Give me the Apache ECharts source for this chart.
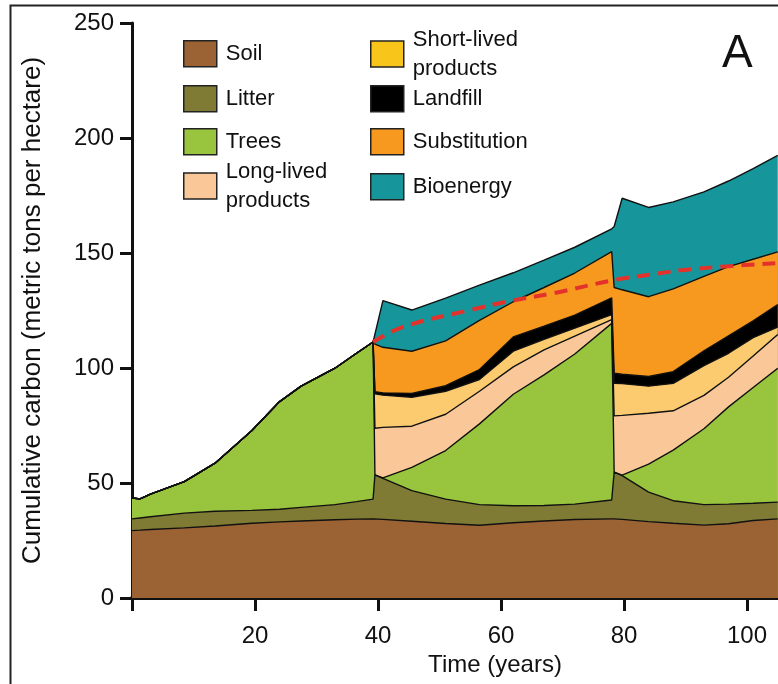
<!DOCTYPE html>
<html><head><meta charset="utf-8">
<script src="https://cdn.jsdelivr.net/npm/echarts@6/dist/echarts.min.js"></script>
<style>html,body{margin:0;padding:0;background:#fff}#c{width:778px;height:684px}</style>
</head><body><div id="c"></div>
<script>
// ---- data (years; each layer's own carbon, metric tons per hectare) ----
const years        = [0, 1.3, 3, 8.5, 13.5, 19.5, 24, 27.5, 33, 36.5, 39.2, 39.5, 40.8, 45.5, 51, 56.5, 62, 67, 72, 78, 78.4, 79.7, 84, 88, 93, 97, 101, 105];
const soil         = [29.3, 29.5, 29.8, 30.5, 31.3, 32.5, 33.1, 33.5, 34.0, 34.3, 34.4, 34.4, 34.2, 33.4, 32.4, 31.6, 32.7, 33.5, 34.1, 34.4, 34.4, 34.2, 33.2, 32.5, 31.7, 32.3, 33.7, 34.4];
const litter       = [5.1, 5.3, 5.5, 6.4, 6.4, 5.6, 5.5, 5.9, 6.6, 7.6, 8.6, 19.1, 17.8, 13.3, 10.6, 9.0, 7.4, 6.7, 6.7, 8.2, 20.3, 19.0, 12.8, 9.8, 8.9, 8.5, 7.5, 7.3];
const trees        = [9.1, 8.3, 9.9, 13.7, 20.9, 34.7, 46.8, 52.7, 59.3, 64.5, 68.3, 0, 0.2, 10.1, 21.1, 35.1, 48.5, 56.8, 65.3, 76.8, 0, 0.2, 12.2, 22.0, 33.0, 42.3, 50.3, 58.2];
const longLived    = [0, 0, 0, 0, 0, 0, 0, 0, 0, 0, 0, 20.3, 22.0, 17.9, 15.8, 14.2, 11.9, 10.9, 7.8, 1.6, 24.5, 26.0, 22.1, 17.1, 14.5, 12.9, 13.7, 14.7];
const shortLived   = [0, 0, 0, 0, 0, 0, 0, 0, 0, 0, 0, 15.0, 14.0, 12.6, 10.0, 5.1, 6.8, 4.6, 3.4, 2.2, 14.2, 13.8, 11.8, 11.9, 12.9, 10.4, 8.0, 3.2];
const landfill     = [0, 0, 0, 0, 0, 0, 0, 0, 0, 0, 0, 0.9, 1.0, 1.6, 2.4, 4.3, 6.2, 5.7, 5.7, 7.3, 4.3, 4.1, 4.2, 5.1, 6.5, 7.6, 7.3, 9.8];
const substitution = [0, 0, 0, 0, 0, 0, 0, 0, 0, 0, 0, 20.7, 19.8, 18.4, 19.5, 21.4, 15.3, 16.8, 18.3, 20.1, 37.3, 36.7, 34.7, 36.0, 32.3, 30.1, 26.8, 22.9];
const bioenergy    = [0, 0, 0, 0, 0, 0, 0, 0, 0, 0, 0, 0.2, 20.3, 17.9, 18.6, 15.3, 12.6, 11.9, 11.2, 9.9, 26.5, 39.8, 38.8, 37.8, 36.8, 37.2, 39.4, 42.0];
// red dashed reference curve
const dashYears    = [39.2, 44, 54.8, 61.8, 68.5, 78.3, 84.5, 91.4, 105];
const dashValues   = [111.3, 117.8, 125.1, 129.3, 132.5, 138.2, 140.7, 143.1, 145.6];
// axes
const yMin = 0, yMax = 250, yStep = 50;
const xMin = 0, xMax = 120, xStep = 20;
const yTitle = 'Cumulative carbon (metric tons per hectare)';
const xTitle = 'Time (years)';
const panelLetter = 'A';

// ---- styling ----
const F = '"Liberation Sans", Arial, Helvetica, sans-serif';
const layers = [
  {name: 'Soil', values: soil, color: '#9B6334'},
  {name: 'Litter', values: litter, color: '#7F7B35'},
  {name: 'Trees', values: trees, color: '#98C53D'},
  {name: 'Long-lived products', values: longLived, color: '#FAC898'},
  {name: 'Short-lived products', values: shortLived, color: '#FCCB70', legendColor: '#F8C51B'},
  {name: 'Landfill', values: landfill, color: '#000000'},
  {name: 'Substitution', values: substitution, color: '#F7991F'},
  {name: 'Bioenergy', values: bioenergy, color: '#16969A'}
];

// cumulative tops of the stack (each layer sits on the ones below it)
const running = years.map(() => 0);
const tops = layers.map(l => {
  l.values.forEach((v, i) => { running[i] += v; });
  return running.slice();
});

// draw the highest layer first; each lower layer is painted over it
const series = [];
for (let k = layers.length - 1; k >= 0; k--) {
  const l = layers[k];
  series.push({
    name: l.name,
    type: 'line',
    symbol: 'none',
    data: years.map((x, i) => [x, tops[k][i]]),
    lineStyle: {color: '#111', width: 1.4},
    itemStyle: {color: l.color},
    areaStyle: {color: l.color, opacity: 1, origin: 'start'},
    emphasis: {disabled: true},
    z: 2
  });
}
series.push({
  name: 'dashed',
  type: 'line',
  symbol: 'none',
  smooth: 0.4,
  data: dashYears.map((x, i) => [x, dashValues[i]]),
  lineStyle: {color: '#E3322B', width: 4, type: [13, 8]},
  emphasis: {disabled: true},
  z: 5
});

// legend layout: [left, iconTop] per item
const legendSlots = [[183, 40], [183, 85], [183, 128], [183, 173], [370, 41], [370, 85], [370, 128], [370, 173]];
const legends = layers.map((l, k) => {
  const twoLine = l.name.indexOf(' products') >= 0;
  const lh = twoLine ? 29 : 26;
  const padTop = (twoLine && k === 3) ? 10 : 0;
  const off = twoLine ? (2 * lh + padTop - 26) / 2 : 0;
  return {
    left: legendSlots[k][0], top: legendSlots[k][1] - off,
    padding: 0,
    orient: 'vertical',
    selectedMode: false,
    icon: 'rect',
    itemWidth: 33, itemHeight: 26,
    data: [{name: l.name, itemStyle: {color: l.legendColor || l.color, borderColor: '#222', borderWidth: 1.5}}],
    formatter: n => n.replace(' products', '\nproducts'),
    textStyle: {fontSize: 22, fontFamily: F, color: '#111', lineHeight: lh, padding: [padTop, 0, 0, 4]}
  };
});

const chart = echarts.init(document.getElementById('c'), null, {renderer: 'canvas'});
chart.setOption({
  animation: false,
  backgroundColor: '#fff',
  grid: {left: 132, top: 23, bottom: 86, right: -92, containLabel: false, outerBoundsMode: 'none'},
  legend: legends,
  xAxis: {
    type: 'value', min: xMin, max: xMax, interval: xStep,
    axisLine: {show: true, onZero: false, lineStyle: {color: '#111', width: 4}},
    axisTick: {show: true, length: 13, lineStyle: {color: '#111', width: 3}},
    axisLabel: {fontSize: 24, fontFamily: F, color: '#111', margin: 26, formatter: v => v === xMin ? '' : String(v)},
    splitLine: {show: false},
    name: xTitle, nameLocation: 'middle', nameGap: 55,
    nameTextStyle: {fontSize: 24, fontFamily: F, color: '#111', padding: [0, 12, 0, 0]}
  },
  yAxis: {
    type: 'value', min: yMin, max: yMax, interval: yStep,
    axisLine: {show: true, onZero: false, lineStyle: {color: '#111', width: 3}},
    axisTick: {show: true, length: 12, lineStyle: {color: '#111', width: 3}},
    axisLabel: {fontSize: 24, fontFamily: F, color: '#111', margin: 18},
    splitLine: {show: false},
    name: yTitle, nameLocation: 'middle', nameGap: 86,
    nameTextStyle: {fontSize: 26, fontFamily: F, color: '#111'}
  },
  graphic: [
    {type: 'rect', left: 8, top: 3, silent: true, z: 100,
     shape: {width: 820, height: 720}, style: {fill: null, stroke: '#222', lineWidth: 2}},
    {type: 'text', left: 722, top: 31, silent: true, z: 100,
     style: {text: panelLetter, font: '46px ' + F, fill: '#111'}}
  ],
  series: series
});
</script></body></html>
